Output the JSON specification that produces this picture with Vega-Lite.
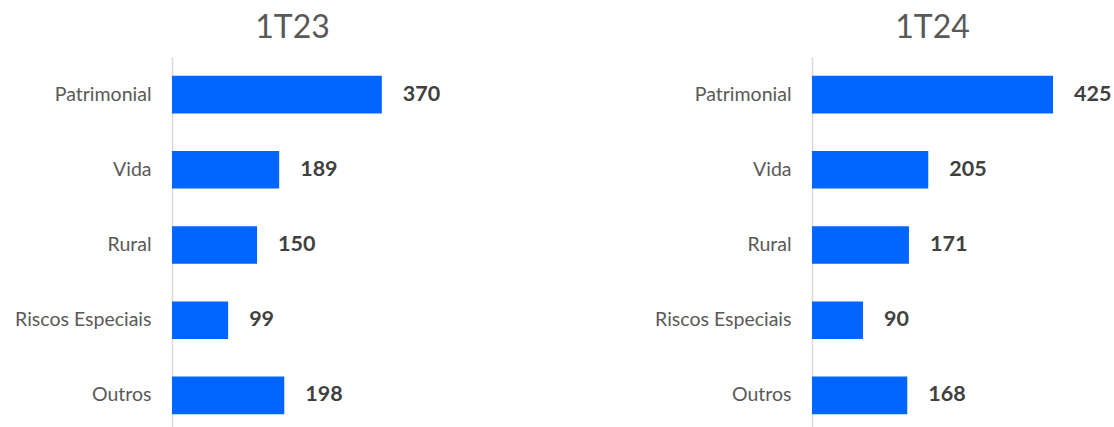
{
  "$schema": "https://vega.github.io/schema/vega-lite/v6.json",
  "padding": {"left": 14, "top": 12, "right": 0, "bottom": 0},
  "background": "white",
  "data": {"values": [
    {"periodo": "1T23", "ramo": "Patrimonial", "valor": 370},
    {"periodo": "1T23", "ramo": "Vida", "valor": 189},
    {"periodo": "1T23", "ramo": "Rural", "valor": 150},
    {"periodo": "1T23", "ramo": "Riscos Especiais", "valor": 99},
    {"periodo": "1T23", "ramo": "Outros", "valor": 198},
    {"periodo": "1T24", "ramo": "Patrimonial", "valor": 425},
    {"periodo": "1T24", "ramo": "Vida", "valor": 205},
    {"periodo": "1T24", "ramo": "Rural", "valor": 171},
    {"periodo": "1T24", "ramo": "Riscos Especiais", "valor": 90},
    {"periodo": "1T24", "ramo": "Outros", "valor": 168}
  ]},
  "config": {
    "view": {"stroke": null},
    "font": "Lato",
    "title": {"font": "Lato", "fontSize": 32, "fontWeight": "normal", "color": "#595959", "anchor": "middle", "offset": 12},
    "axisY": {"domainColor": "#d9d9d9", "domainWidth": 1.5, "ticks": false, "labelPadding": 21, "labelFontSize": 19.5, "labelColor": "#595959", "labelFont": "Lato", "title": null, "grid": false, "labelLimit": 300}
  },
  "bounds": "flush",
  "spacing": 399,
  "hconcat": [
    {
      "title": "1T23",
      "width": 241,
      "height": 376,
      "transform": [{"filter": "datum.periodo === '1T23'"}],
      "encoding": {
        "y": {"field": "ramo", "type": "nominal", "sort": null, "scale": {"paddingInner": 0.5, "paddingOuter": 0.25}},
        "x": {"field": "valor", "type": "quantitative", "axis": null, "scale": {"domain": [0, 425]}}
      },
      "layer": [
        {"mark": {"type": "bar", "color": "#0066FF"}},
        {"mark": {"type": "text", "align": "left", "baseline": "middle", "dx": 21, "fontSize": 21.5, "fontWeight": "bold", "color": "#404040", "font": "Lato"}, "encoding": {"text": {"field": "valor", "type": "quantitative"}}}
      ]
    },
    {
      "title": "1T24",
      "width": 241,
      "height": 376,
      "transform": [{"filter": "datum.periodo === '1T24'"}],
      "encoding": {
        "y": {"field": "ramo", "type": "nominal", "sort": null, "scale": {"paddingInner": 0.5, "paddingOuter": 0.25}},
        "x": {"field": "valor", "type": "quantitative", "axis": null, "scale": {"domain": [0, 425]}}
      },
      "layer": [
        {"mark": {"type": "bar", "color": "#0066FF"}},
        {"mark": {"type": "text", "align": "left", "baseline": "middle", "dx": 21, "fontSize": 21.5, "fontWeight": "bold", "color": "#404040", "font": "Lato"}, "encoding": {"text": {"field": "valor", "type": "quantitative"}}}
      ]
    }
  ]
}
